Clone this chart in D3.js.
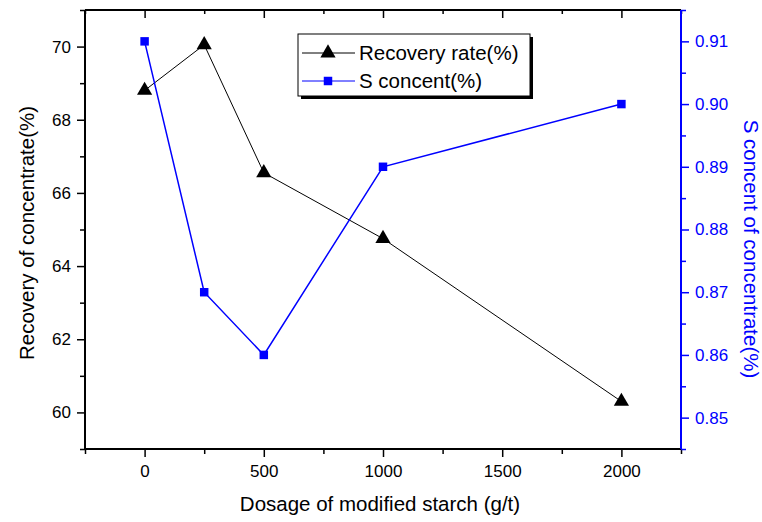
<!DOCTYPE html>
<html>
<head>
<meta charset="utf-8">
<script src="https://cdn.jsdelivr.net/npm/d3@7"></script>
<style>
  body { margin: 0; background: #fff; }
  text { font-family: "Liberation Sans", Arial, sans-serif; }
</style>
</head>
<body>
<svg id="chart"></svg>
<script>
const dosage = [0, 250, 500, 1000, 2000];
const recovery = [68.8, 70.05, 66.55, 64.75, 60.3];
const sConcent = [0.91, 0.87, 0.86, 0.89, 0.90];
const xTicks = [0, 500, 1000, 1500, 2000];
const yLeftTicks = [60, 62, 64, 66, 68, 70];
const yRightTicks = [0.85, 0.86, 0.87, 0.88, 0.89, 0.90, 0.91];
const seriesNames = ["Recovery rate(%)", "S concent(%)"];

const W = 762, H = 522;
const m = { left: 85, right: 81, top: 10, bottom: 73 };

const svg = d3.select("#chart").attr("width", W).attr("height", H);

const x = d3.scaleLinear().domain([-250, 2250]).range([m.left, W - m.right]);
const yL = d3.scaleLinear().domain([59, 71]).range([H - m.bottom, m.top]);
const yR = d3.scaleLinear().domain([0.845, 0.915]).range([H - m.bottom, m.top]);

const blue = "#0000ff";
const fmt2 = d3.format(".2f");

// minor tick values
const xMinor = d3.range(-250, 2251, 250).filter(v => v % 500 !== 0);
const yLMinor = d3.range(59, 71.1, 1).filter(v => v % 2 !== 0);
const yRMinor = d3.range(0.845, 0.916, 0.01);

function style(g, color) {
  g.select(".domain").remove();
  g.selectAll("line").attr("stroke", color).attr("stroke-width", 1.5);
  g.selectAll("text").attr("fill", color).style("font-size", "17px");
}

// bottom axis
svg.append("g").attr("transform", `translate(0,${H - m.bottom})`)
  .call(d3.axisBottom(x).tickValues(xTicks).tickSize(8).tickPadding(8).tickFormat(d3.format("d")))
  .call(g => style(g, "#000"));
svg.append("g").attr("transform", `translate(0,${H - m.bottom})`)
  .call(d3.axisBottom(x).tickValues(xMinor).tickSize(5).tickFormat(""))
  .call(g => style(g, "#000"));

// top axis (inward ticks)
svg.append("g").attr("transform", `translate(0,${m.top})`)
  .call(d3.axisBottom(x).tickValues(xTicks).tickSize(8).tickFormat(""))
  .call(g => style(g, "#000"));
svg.append("g").attr("transform", `translate(0,${m.top})`)
  .call(d3.axisBottom(x).tickValues(xMinor).tickSize(4).tickFormat(""))
  .call(g => style(g, "#000"));

// left axis
svg.append("g").attr("transform", `translate(${m.left},0)`)
  .call(d3.axisLeft(yL).tickValues(yLeftTicks).tickSize(8).tickPadding(6))
  .call(g => style(g, "#000"));
svg.append("g").attr("transform", `translate(${m.left},0)`)
  .call(d3.axisLeft(yL).tickValues(yLMinor).tickSize(5).tickFormat(""))
  .call(g => style(g, "#000"));

// right axis
svg.append("g").attr("transform", `translate(${W - m.right},0)`)
  .call(d3.axisRight(yR).tickValues(yRightTicks).tickSize(8).tickPadding(6).tickFormat(fmt2))
  .call(g => style(g, blue));
svg.append("g").attr("transform", `translate(${W - m.right},0)`)
  .call(d3.axisRight(yR).tickValues(yRMinor).tickSize(5).tickFormat(""))
  .call(g => style(g, blue));

// frame
const x0 = m.left, x1 = W - m.right, y0 = m.top, y1 = H - m.bottom;
svg.append("line").attr("x1", x0).attr("x2", x1).attr("y1", y0).attr("y2", y0).attr("stroke", "#000").attr("stroke-width", 2);
svg.append("line").attr("x1", x0).attr("x2", x1).attr("y1", y1).attr("y2", y1).attr("stroke", "#000").attr("stroke-width", 2);
svg.append("line").attr("x1", x0).attr("x2", x0).attr("y1", y0).attr("y2", y1).attr("stroke", "#000").attr("stroke-width", 2);
svg.append("line").attr("x1", x1).attr("x2", x1).attr("y1", y0).attr("y2", y1).attr("stroke", blue).attr("stroke-width", 2);

// axis titles
svg.append("text").attr("x", 380).attr("y", 511)
  .attr("text-anchor", "middle").style("font-size", "20.5px").text("Dosage of modified starch (g/t)");
svg.append("text").attr("transform", "translate(34,233) rotate(-90)")
  .attr("text-anchor", "middle").style("font-size", "20.5px").text("Recovery of concentrate(%)");
svg.append("text").attr("transform", "translate(744,249) rotate(90)")
  .attr("text-anchor", "middle").attr("fill", blue).style("font-size", "20.5px").text("S concent of concentrate(%)");

// series
const tri = d3.symbol().type(d3.symbolTriangle).size(100);
const sq = d3.symbol().type(d3.symbolSquare).size(72);

const lineL = d3.line().x((d, i) => x(dosage[i])).y(d => yL(d));
const lineR = d3.line().x((d, i) => x(dosage[i])).y(d => yR(d));

svg.append("path").datum(recovery).attr("d", lineL).attr("fill", "none").attr("stroke", "#000").attr("stroke-width", 1);
svg.append("path").datum(sConcent).attr("d", lineR).attr("fill", "none").attr("stroke", blue).attr("stroke-width", 1.5);

svg.selectAll(".tri").data(recovery).join("path")
  .attr("d", tri).attr("fill", "#000")
  .attr("transform", (d, i) => `translate(${x(dosage[i])},${yL(d)})`);
svg.selectAll(".sq").data(sConcent).join("path")
  .attr("d", sq).attr("fill", blue)
  .attr("transform", (d, i) => `translate(${x(dosage[i])},${yR(d)})`);

// legend
const lg = svg.append("g").attr("transform", "translate(298,34)");
lg.append("rect").attr("x", 3).attr("y", 3).attr("width", 232).attr("height", 62).attr("fill", "#000");
lg.append("rect").attr("x", 0).attr("y", 0).attr("width", 232).attr("height", 62).attr("fill", "#fff").attr("stroke", "#000").attr("stroke-width", 1);
const legendItems = [
  { name: seriesNames[0], color: "#000", sym: tri, cy: 19 },
  { name: seriesNames[1], color: blue, sym: sq, cy: 47 }
];
legendItems.forEach(it => {
  lg.append("line").attr("x1", 4).attr("x2", 57).attr("y1", it.cy).attr("y2", it.cy).attr("stroke", it.color).attr("stroke-width", 1);
  lg.append("path").attr("d", it.sym).attr("fill", it.color).attr("transform", `translate(30,${it.cy})`);
  lg.append("text").attr("x", 61).attr("y", it.cy + 7).style("font-size", "20.5px").attr("fill", "#000").text(it.name);
});
</script>
</body>
</html>
